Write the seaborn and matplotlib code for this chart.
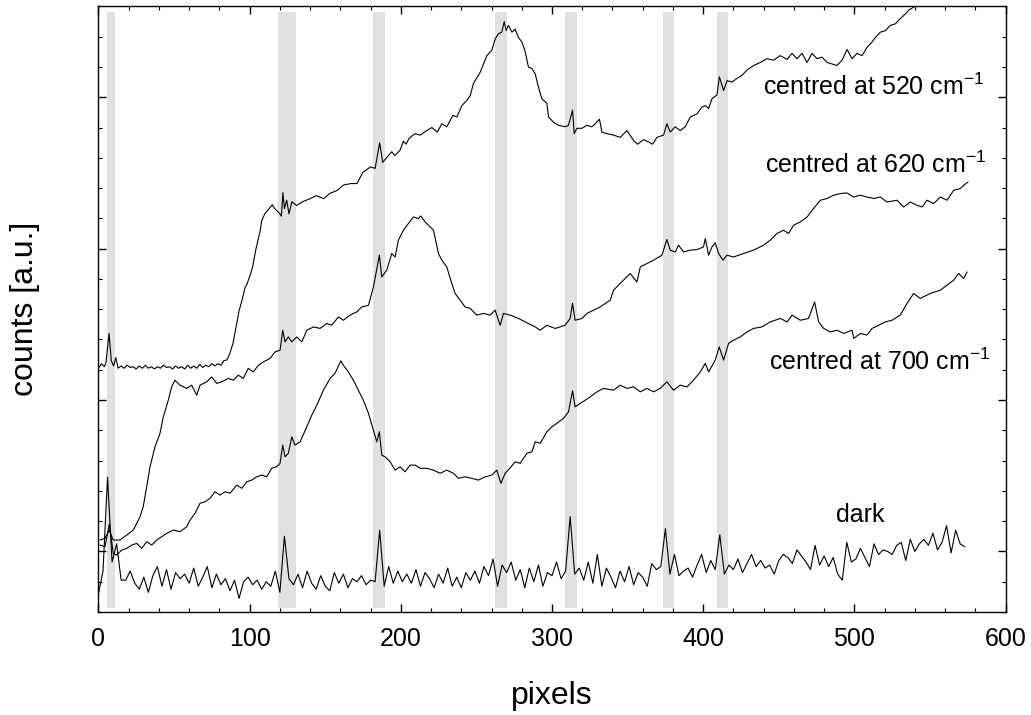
import numpy as np
import pandas as pd
import seaborn as sns
import matplotlib
matplotlib.use("Agg")
import matplotlib.pyplot as plt
from matplotlib.ticker import MultipleLocator, NullFormatter

# ---------------- data ----------------
c520_x = [0, 2, 4, 5, 7, 8.5, 10, 11.5, 13, 15, 17, 19, 21, 23, 25, 27, 29, 31, 33, 35, 37, 39, 41, 43, 45,
          47, 49, 51, 53, 55, 57, 59, 61, 63, 65, 67, 69, 71, 73, 75, 77, 79, 81, 83, 85, 87, 89, 91, 93, 95,
          97, 98, 100, 102, 104, 107, 108, 110, 115, 116.5, 118, 120, 121, 122, 123, 124.5, 126, 128, 131,
          135, 140, 144, 149, 153, 158, 162, 167, 171, 175, 180, 183, 186, 188, 191, 194, 196, 199.5, 201.7,
          203.5, 205.5, 209.5, 212.8, 217.2, 220.5, 224.2, 227.1, 230.4, 234.4, 237.1, 240.4, 243.7, 245.9,
          248, 252.5, 256.9, 260.2, 262.4, 264.6, 266.8, 268.4, 269.7, 271.2, 273.5, 275.6, 277.8, 280.1,
          282.3, 284.4, 286.7, 288.9, 291.1, 293.3, 296.6, 297.7, 301, 304.3, 308.7, 310.9, 313.6, 314.7,
          316.5, 319.8, 323.1, 326.4, 328.6, 331.4, 333, 336.3, 340.7, 345.1, 349.6, 353.9, 356.6, 360.6,
          363.9, 366.5, 369.4, 373.8, 376, 378.2, 381.5, 384.8, 388.1, 391.5, 395.9, 399.2, 401.4, 403.6,
          405.8, 409.1, 410.7, 413.5, 415.8, 419.1, 422.4, 425.7, 429, 433.4, 437.8, 442.2, 446.6, 451,
          455.5, 458.8, 462.1, 465.4, 468.7, 472, 475.3, 478.6, 481.9, 485.2, 488.5, 491.9, 495.2, 498.5,
          501.8, 505.1, 508.4, 511.7, 513.9, 517.2, 520.5, 523.8, 527.1, 530.4, 533.7, 535.9, 539.2, 541.5,
          548, 556, 566, 575]
c520_y = [161, 164, 162, 165, 184, 166, 162.5, 168, 161, 162.5, 161, 163, 161.5, 162, 160.5, 162.5, 161, 163,
          161, 162, 160.5, 162, 161, 163, 161.5, 162, 160.5, 162.5, 161, 162, 160.5, 163, 161, 162.5, 161,
          163.5, 161.5, 163, 162, 164, 162.5, 164, 163, 166, 166.5, 171, 177.5, 188, 199, 206, 214.5, 216,
          221.5, 228, 239, 252, 258.5, 263, 269, 266.5, 265, 263, 261.5, 277, 266.5, 272, 263, 271, 268.5,
          271, 273, 275, 273, 276.5, 278.5, 282, 283, 283, 290.5, 294, 293, 310, 297, 300.5, 304, 301.5,
          305, 311, 309, 313, 316, 315, 318, 320, 317, 322.5, 320.5, 328, 327, 334.5, 338, 341, 349, 356.5,
          367.5, 371, 378.5, 382, 383, 390, 384, 387.5, 383, 385, 379.5, 376.5, 370, 360, 359, 355.5, 346.5,
          339, 336, 327, 323.5, 321.5, 320.5, 321.5, 331.5, 316, 319.5, 319.5, 321.5, 320.5, 322.5, 325.5,
          317, 316, 315, 313.5, 318, 311.5, 309, 312, 310.5, 309, 313.5, 315, 322.5, 317, 320.5, 318, 320.5,
          327, 329, 333.5, 334.5, 332.5, 339, 341.5, 353.5, 344.5, 351, 350, 352.5, 354.5, 358, 361, 363,
          365.5, 364.5, 367.5, 365, 369, 365.5, 369, 363, 369, 365.5, 366.5, 363, 362, 361, 364.5, 371.5,
          365.5, 369, 367.5, 373, 376.5, 379.5, 383, 384, 387.5, 388.5, 392, 395, 397.5, 399.5, 402, 405,
          409, 413, 417]

c620_x = [1, 4.3, 7.1, 9.8, 14.2, 18.7, 23, 27.5, 29.6, 31.9, 34.1, 37.4, 40.7, 42.9, 46.2, 48.4, 50.6, 53.9,
          58.4, 61.7, 65, 67.2, 71.6, 74.9, 78.2, 81.5, 85.9, 89.2, 92.5, 95.8, 99.1, 102.4, 105.8, 109.1,
          113.5, 116.8, 120.1, 121.9, 123.4, 125.6, 127.9, 131.2, 134.5, 137.8, 142.2, 146.6, 151, 154.3,
          158.7, 162, 166.4, 170.9, 174.2, 178.6, 181.9, 185.8, 187.4, 190.7, 194, 196.2, 198.4, 201.7, 205,
          208.3, 211.6, 213.2, 216.1, 219.4, 221.6, 224.9, 227.1, 230.4, 233.7, 235.9, 239.2, 242.5, 245.9,
          250.3, 254.7, 259.1, 262.4, 265.7, 267.9, 272.3, 277.8, 284.4, 288.9, 292.2, 296.6, 302.1, 305.4,
          308.7, 312, 313.6, 315.3, 319.8, 323.1, 327.5, 331.9, 335.2, 338.5, 340.7, 345.1, 348.4, 351.7,
          356.2, 358.4, 362.8, 367.2, 372.7, 376, 378.2, 381.5, 383.7, 387, 391.5, 395.9, 400.2, 401.4,
          403.6, 405.8, 408, 410.2, 413.1, 415.7, 420.1, 426.7, 433.3, 440, 444.4, 448.8, 453.2, 456.5,
          459.8, 464.2, 468.7, 473, 477.5, 481.9, 486.3, 490.7, 495.1, 499.5, 503.9, 508.4, 512.8, 517.2,
          521.6, 528.2, 532.6, 537, 541.5, 544.8, 548.1, 552.4, 556.9, 561.3, 565.7, 570.1, 572.3, 575.2]
c620_y = [47.5, 48.6, 54, 47.5, 47.5, 50.8, 54.1, 62.9, 69.5, 82.7, 95.9, 109.1, 118, 128.9, 139.9, 148.7,
          153.1, 149.8, 147.7, 149.8, 143.2, 149.8, 152, 155.3, 151, 152, 154.3, 153.1, 156.4, 154.3, 160.9,
          158.6, 163, 165.2, 167.5, 171.8, 172.9, 186.1, 178.4, 181.7, 178.4, 181.7, 178.4, 186.1, 188.3,
          187.3, 190.6, 189.4, 194.9, 192.7, 196.1, 198.2, 201.5, 202.6, 214.7, 235.7, 221.3, 225.8, 236.8,
          234.5, 245.6, 252.2, 256.6, 260.9, 259.9, 261.6, 257.6, 254.3, 252.2, 236.8, 232.4, 227.9, 217,
          210.4, 205.9, 201.5, 200.5, 196.1, 197.2, 196.1, 199.4, 189.4, 197.2, 196.1, 193.9, 190.6, 188.3,
          186.1, 189.4, 187.3, 188.3, 189.4, 193.9, 203.8, 192.7, 193.9, 197.2, 199.4, 201.5, 203.8, 205.9,
          212.6, 217, 220.3, 223.6, 218, 227.9, 230.2, 232.4, 235.7, 246, 239, 237.8, 242.3, 237.8, 239,
          239.4, 241.1, 246.7, 235.7, 241.1, 243.8, 236.8, 232.4, 235.7, 234.5, 236.8, 239, 242.3, 245.6,
          250, 252.2, 250, 255.5, 257.6, 260.9, 266.5, 272, 273.1, 275.3, 276.4, 276.8, 274.1, 275.3, 274.1,
          273.1, 274.1, 270.8, 272, 267.5, 270.8, 268.6, 267.5, 272, 269.8, 274.1, 272, 278.6, 279.7, 281.9,
          284]

c700_x = [1, 4.3, 7.2, 9.8, 12, 15.4, 18.7, 22, 25.3, 28.6, 31.9, 35.2, 38.5, 41.8, 45.1, 49.5, 53.9, 58.4,
          60.6, 63.9, 67.2, 70.5, 73.8, 77.1, 80.4, 83.7, 87, 91.5, 94.8, 98.1, 101.4, 104.7, 108, 111.3,
          114.6, 117.9, 120.1, 121.9, 123.4, 125.6, 127.9, 130, 133.4, 137.8, 141.1, 144.4, 148.8, 153.2,
          156.5, 160.3, 162, 165.3, 168.6, 171.9, 175.2, 178.6, 181.5, 184.1, 185.8, 187.4, 189.6, 192.9,
          196.2, 199.5, 202.8, 206.1, 209.5, 212.8, 217.2, 221.6, 226, 230.4, 234.8, 238.1, 242.5, 247,
          251.3, 255.8, 260.2, 263.5, 266.2, 269, 272.3, 275.6, 278.9, 283.4, 286.7, 288.9, 292.2, 296.6,
          299.9, 303.2, 307.6, 310.9, 313.6, 315.3, 318.7, 322, 325.3, 329.7, 334.1, 340.7, 345.1, 349.6,
          353.9, 358.4, 362.8, 367.2, 371.6, 376, 380.4, 384.8, 389.3, 393.6, 398.1, 401.4, 403.6, 408,
          410.6, 413.5, 416.8, 420.1, 424.5, 429, 433.3, 438.9, 444.4, 451, 455.5, 458.8, 464.2, 469.7,
          473.7, 476.4, 479.7, 484.1, 488.5, 492.9, 498.5, 499.6, 504, 508.4, 511.7, 516.1, 520.5, 524.9,
          530.4, 534.8, 539.2, 543.6, 550.2, 556.9, 561.3, 565.7, 569, 572.3, 574.6]
c700_y = [44.2, 43.1, 58, 38.7, 37.6, 40.9, 42, 44.2, 45.3, 42, 46.4, 44.2, 47.5, 49.7, 51.9, 54.1, 53, 56.3,
          60.7, 65.2, 71.8, 72.8, 75.1, 79.4, 77.2, 79.4, 78.4, 83.8, 81.7, 86, 87.1, 89.3, 90.4, 89.3, 94.9,
          95.9, 98.2, 110.2, 102.5, 104.8, 115.7, 110.2, 112.4, 122.3, 130, 136.6, 146.5, 154.3, 157.6,
          165.9, 163, 158.6, 153.1, 146.5, 139.9, 131.2, 121.3, 112.4, 119, 103.6, 102.5, 99.2, 93.7, 95.9,
          92.6, 97, 97, 94.9, 94.9, 93.7, 91.6, 93.7, 91.6, 88.3, 89.3, 88.3, 87.1, 89.3, 90.4, 93.7, 85,
          91.6, 95.1, 99.2, 98.2, 104.8, 105.8, 112.4, 111.4, 119, 122.3, 124.6, 127.9, 132.2, 146.1, 135.5,
          137.8, 139.9, 142.1, 145.4, 147.7, 146.5, 149.8, 147.7, 148.7, 145.4, 147.7, 145.4, 147.7, 152,
          146.5, 149.8, 148.7, 153.1, 158.6, 164.2, 158.6, 166.4, 175.1, 166.4, 177.4, 179.5, 181.7, 185,
          187.3, 188.3, 191.6, 193.9, 191.6, 196.1, 192.7, 193.9, 204.8, 191.6, 187.3, 185, 186.1, 184,
          186.1, 180.7, 184, 182.9, 187.3, 189.4, 191.6, 192.7, 196.1, 203.8, 210.4, 207.1, 210.4, 212.6,
          215.9, 219.2, 223.6, 220.3, 224.6]

dark_y = [12, 27, 89, 33, 45, 21, 21, 27, 19, 15, 23, 13, 24, 30, 17, 28, 15, 26, 22, 25, 19, 29, 17, 23, 30,
          16, 25, 18, 22, 14, 21, 9, 20, 23, 18, 21, 15, 20, 17, 27, 13, 50, 22, 18, 25, 16, 27, 19, 15, 24,
          17, 14, 26, 19, 25, 16, 22, 20, 24, 18, 21, 20, 54, 17, 30, 19, 27, 20, 25, 19, 28, 17, 26, 22, 16,
          25, 19, 29, 17, 23, 16, 26, 21, 27, 19, 30, 24, 35, 17, 31, 26, 33, 21, 28, 16, 29, 20, 31, 17, 26,
          24, 33, 22, 27, 63, 25, 29, 21, 33, 19, 38, 17, 29, 23, 16, 27, 20, 30, 18, 26, 23, 17, 32, 28, 30,
          55, 25, 38, 24, 27, 29, 23, 31, 38, 26, 34, 28, 51, 25, 31, 28, 35, 26, 32, 38, 30, 34, 29, 31, 25,
          34, 38, 36, 32, 41, 37, 33, 28, 44, 31, 37, 30, 36, 25, 21, 46, 33, 35, 42, 36, 30, 45, 38, 41, 40,
          38, 44, 46, 34, 48, 40, 45, 48, 44, 52, 41, 46, 57, 39, 54, 45, 43]
dark_x = np.arange(0, 3 * len(dark_y), 3)

bands = [(5.4, 11.2), (119, 130.5), (181.9, 189.6), (262.4, 270.2), (308.7, 316.5), (373.1, 380.4), (409.1, 416.4)]

labels = ["centred at 520 cm$^{\\mathregular{-1}}$", "centred at 620 cm$^{\\mathregular{-1}}$",
          "centred at 700 cm$^{\\mathregular{-1}}$", "dark"]
label_pos = [(439.8, 341.3), (441.1, 289.8), (443.7, 159.7), (504, 59.4)]

# ---------------- style ----------------
sns.set_theme(style="ticks")
plt.rcParams["font.family"] = ["Liberation Sans", "DejaVu Sans"]
plt.rcParams["mathtext.fontset"] = "custom"
plt.rcParams["mathtext.rm"] = "Liberation Sans"
plt.rcParams["mathtext.it"] = "Liberation Sans:italic"
plt.rcParams["mathtext.bf"] = "Liberation Sans:bold"
plt.rcParams["text.color"] = "black"
plt.rcParams["axes.labelcolor"] = "black"
plt.rcParams["xtick.color"] = "black"
plt.rcParams["ytick.color"] = "black"
plt.rcParams["xtick.labelcolor"] = "black"

frames = []
for name, xs, ys in [("520", c520_x, c520_y), ("620", c620_x, c620_y),
                     ("700", c700_x, c700_y), ("dark", dark_x, dark_y)]:
    frames.append(pd.DataFrame({"pixel": np.asarray(xs, float), "counts": np.asarray(ys, float), "series": name}))
df = pd.concat(frames, ignore_index=True)

fig = plt.figure(figsize=(10.31, 7.15), dpi=100)
ax = fig.add_axes([0.0955, 0.1441, 0.8798, 0.8469])

for x0, x1 in bands:
    ax.axvspan(x0, x1, ymin=0.007, ymax=0.99, color="#e0e2e2", lw=0, zorder=0)

sns.lineplot(data=df, x="pixel", y="counts", units="series", estimator=None, sort=False,
             color="black", linewidth=0.8, ax=ax, zorder=2)

ax.set_xlim(0, 600)
ax.set_ylim(0, 400)
ax.xaxis.set_major_locator(MultipleLocator(100))
ax.xaxis.set_minor_locator(MultipleLocator(20))
ax.yaxis.set_major_locator(MultipleLocator(100, offset=40))
ax.yaxis.set_minor_locator(MultipleLocator(20))
ax.yaxis.set_major_formatter(NullFormatter())
ax.tick_params(which="both", direction="in", top=True, right=True, colors="black", labelcolor="black")
ax.tick_params(which="major", length=5.8, width=1.0, labelsize=18, pad=10.5)
ax.tick_params(which="minor", length=2.6, width=0.8)
for s in ax.spines.values():
    s.set_linewidth(1.0)
    s.set_color("black")

ax.set_xlabel("pixels", fontsize=23, color="black")
ax.set_ylabel("counts [a.u.]", fontsize=23, color="black")
ax.xaxis.set_label_coords(0.5, -0.114)
ax.yaxis.set_label_coords(-0.064, 0.5)

for txt, (tx, ty) in zip(labels, label_pos):
    ha = "center" if txt == "dark" else "left"
    ax.text(tx, ty, txt, fontsize=18, ha=ha, va="baseline", color="black")

fig.savefig("out.png", dpi=100)
